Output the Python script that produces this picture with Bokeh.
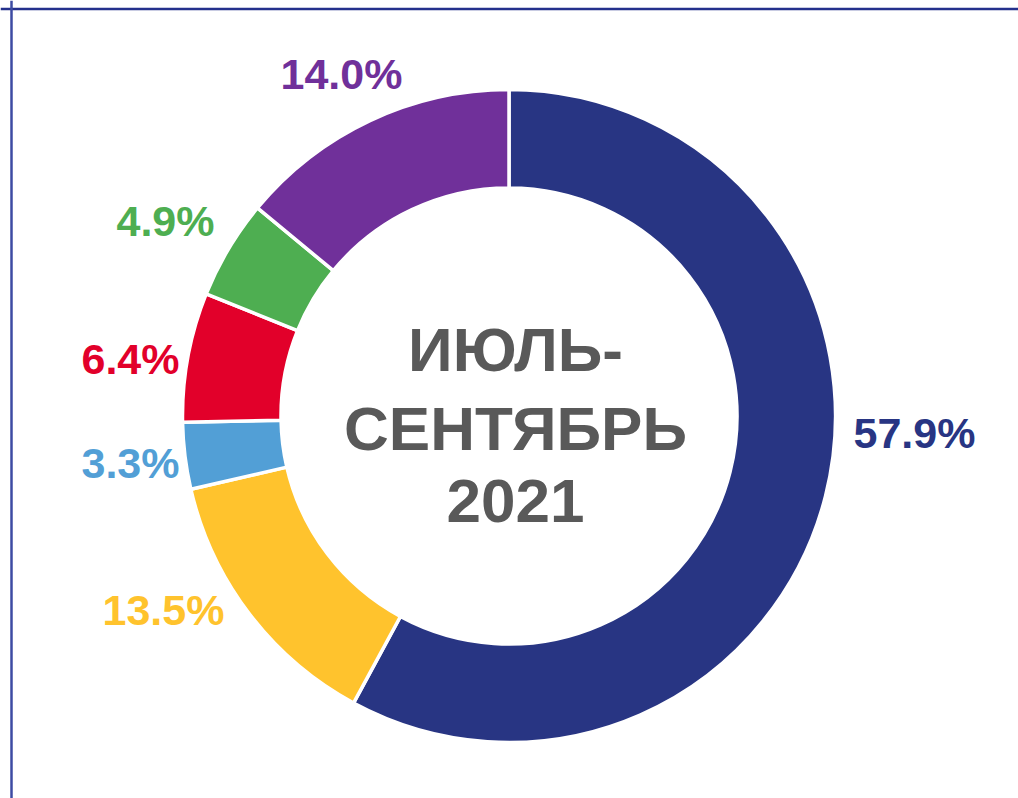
import numpy as np
from bokeh.plotting import figure
from bokeh.models import Range1d, Span, ColumnDataSource
from bokeh.core.properties import value
from bokeh.embed import file_html
from bokeh.resources import INLINE

# ---- data ----
values = [57.9, 13.5, 3.3, 6.4, 4.9, 14.0]
labels = ["57.9%", "13.5%", "3.3%", "6.4%", "4.9%", "14.0%"]
colors = ["#283583", "#FFC32D", "#529FD6", "#E2002A", "#4EAE51", "#70309A"]
center_lines = ["ИЮЛЬ-", "СЕНТЯБРЬ", "2021"]

# ---- layout (screen-pixel-like data space, y measured from bottom) ----
W, H = 1018, 798
cx, cy = 508.5, H - 415.5
r_out, r_in = 326.5, 228.0

# label anchor points (page pixel coords) -> converted to data space
label_px = [(914, 432), (163, 609), (130, 462), (130, 358), (165, 220), (341, 73)]
label_x = [px for px, py in label_px]
label_y = [H - py for px, py in label_px]

vals = np.array(values, dtype=float)
frac = vals / vals.sum()
cum = np.concatenate([[0.0], np.cumsum(frac)])
start = np.pi / 2 - 2 * np.pi * cum[:-1]
end = np.pi / 2 - 2 * np.pi * cum[1:]

src = ColumnDataSource(dict(start=start, end=end, color=colors,
                            lx=label_x, ly=label_y, label=labels))

p = figure(width=W, height=H, output_backend="svg", toolbar_location=None,
           x_range=Range1d(0, W), y_range=Range1d(0, H),
           min_border=0, outline_line_color=None, background_fill_color="white",
           border_fill_color="white")
p.axis.visible = False
p.grid.visible = False

# frame lines (top and left)
p.add_layout(Span(location=H - 8.5, dimension="width", line_color="#24308C", line_width=2.5))
p.add_layout(Span(location=11, dimension="height", line_color="#3D4BA3", line_width=2.5))

p.annular_wedge(x=cx, y=cy, inner_radius=r_in, outer_radius=r_out,
                start_angle="start", end_angle="end", direction="clock",
                fill_color="color", line_color="white", line_width=3.5, source=src)

p.text(x="lx", y="ly", text="label", text_color="color", source=src,
       text_font=value("Liberation Sans"), text_font_style="bold",
       text_font_size="43px", text_align="center", text_baseline="middle")

line_y_px = [349, 428, 500]
p.text(x=[515] * 3, y=[H - y for y in line_y_px], text=center_lines,
       text_color="#595959", text_font=value("Liberation Sans"), text_font_style="bold",
       text_font_size="62px", text_align="center", text_baseline="middle")

open("out.html", "w").write(file_html(p, INLINE))
